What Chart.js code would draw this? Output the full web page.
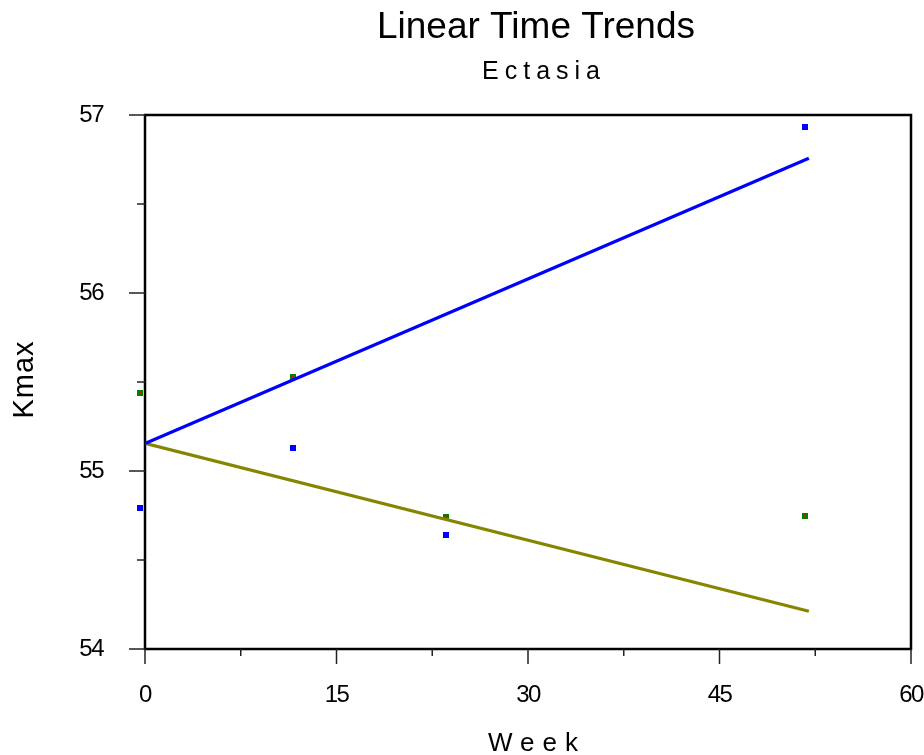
<!DOCTYPE html>
<html>
<head>
<meta charset="utf-8">
<script src="https://cdn.jsdelivr.net/npm/chart.js@4.4.1/dist/chart.umd.min.js"></script>
<style>
  body { margin: 0; background: #fff; }
  canvas { display: block; }
</style>
</head>
<body>
<canvas id="c" width="924" height="755"></canvas>
<script>
// values
const weeksBlue = [-0.4, 11.6, 23.6, 51.7];
const kmaxBlue = [54.79, 55.13, 54.64, 56.93];
const weeksGreen = [-0.4, 11.6, 23.6, 51.7];
const kmaxGreen = [55.44, 55.53, 54.74, 54.75];
const trendWeeks = [0, 52];
const trendBlue = [55.155, 56.757];
const trendOlive = [55.155, 54.212];
const xTicks = [0, 15, 30, 45, 60];
const yTicks = [54, 55, 56, 57];

const FONT = '"Liberation Sans", Arial, sans-serif';

function toPoints(xs, ys){ return xs.map((x, i) => ({ x: x, y: ys[i] })); }

// little square markers
function marker(fill, dot){
  const c = document.createElement('canvas');
  c.width = 6; c.height = 6;
  const g = c.getContext('2d');
  g.fillStyle = fill; g.fillRect(0, 0, 6, 6);
  if (dot){ g.fillStyle = dot; g.fillRect(2, 2, 2, 2); }
  return c;
}
const blueMark = marker('#0000ff');
const greenMark = marker('#008000', '#ff0000');

function midpoints(arr){
  const out = [];
  for (let i = 1; i < arr.length; i++) out.push((arr[i-1] + arr[i]) / 2);
  return out;
}

function drawSpaced(ctx, text, cx, base, font, ls){
  ctx.font = font;
  ctx.letterSpacing = ls + 'px';
  const w = ctx.measureText(text).width - ls;
  ctx.textAlign = 'left';
  ctx.textBaseline = 'alphabetic';
  ctx.fillText(text, cx - w / 2, base);
}

const frameAndText = {
  id: 'frameAndText',
  beforeDraw(chart){ chart.ctx.letterSpacing = '-1.5px'; },
  beforeDatasetsDraw(chart){
    const { ctx, chartArea: a, scales: { x, y } } = chart;
    ctx.save();
    ctx.strokeStyle = '#000';
    ctx.lineWidth = 2.5;
    ctx.strokeRect(a.left, a.top, a.right - a.left, a.bottom - a.top);

    ctx.strokeStyle = '#222';
    ctx.lineWidth = 1.5;
    ctx.beginPath();
    yTicks.forEach(v => { const p = y.getPixelForValue(v); ctx.moveTo(a.left - 16, p); ctx.lineTo(a.left, p); });
    midpoints(yTicks).forEach(v => { const p = y.getPixelForValue(v); ctx.moveTo(a.left - 8, p); ctx.lineTo(a.left, p); });
    xTicks.forEach(v => { const p = x.getPixelForValue(v); ctx.moveTo(p, a.bottom); ctx.lineTo(p, a.bottom + 15); });
    midpoints(xTicks).forEach(v => { const p = x.getPixelForValue(v); ctx.moveTo(p, a.bottom); ctx.lineTo(p, a.bottom + 7); });
    ctx.stroke();
    ctx.restore();
  },
  afterDraw(chart){
    const { ctx } = chart;
    ctx.save();
    ctx.fillStyle = '#000';
    drawSpaced(ctx, 'Linear Time Trends', 536, 38, '37px ' + FONT, 0);
    drawSpaced(ctx, 'Ectasia', 541, 79, '25px ' + FONT, 6);
    drawSpaced(ctx, 'Week', 533, 751, '26px ' + FONT, 8);
    ctx.translate(33, 380);
    ctx.rotate(-Math.PI / 2);
    drawSpaced(ctx, 'Kmax', 0, 0, '29px ' + FONT, 1);
    ctx.restore();
  }
};

new Chart(document.getElementById('c'), {
  type: 'scatter',
  data: {
    datasets: [
      { data: toPoints(trendWeeks, trendBlue), showLine: true, borderColor: '#0000ff', borderWidth: 3.2, pointRadius: 0 },
      { data: toPoints(trendWeeks, trendOlive), showLine: true, borderColor: '#858500', borderWidth: 3.2, pointRadius: 0 },
      { data: toPoints(weeksBlue, kmaxBlue), pointStyle: blueMark, pointRadius: 8, clip: false },
      { data: toPoints(weeksGreen, kmaxGreen), pointStyle: greenMark, pointRadius: 8, clip: false }
    ]
  },
  options: {
    responsive: false,
    animation: false,
    events: [],
    layout: { padding: { top: 115, right: 13, left: 0, bottom: 0 } },
    plugins: { legend: { display: false }, tooltip: { enabled: false } },
    scales: {
      x: {
        type: 'linear', min: 0, max: 60,
        afterFit(s){ s.height = 106; s.paddingLeft = 0; s.paddingRight = 0; },
        afterBuildTicks(s){ s.ticks = xTicks.map(v => ({ value: v })); },
        grid: { display: false, drawTicks: false },
        border: { display: false },
        ticks: { color: '#000', padding: 32, font: { family: FONT, size: 24 } }
      },
      y: {
        type: 'linear', min: 54, max: 57,
        afterFit(s){ s.width = 145; s.paddingTop = 0; s.paddingBottom = 0; },
        afterBuildTicks(s){ s.ticks = yTicks.map(v => ({ value: v })); },
        grid: { display: false, drawTicks: false },
        border: { display: false },
        ticks: { color: '#000', padding: 42, font: { family: FONT, size: 24 } }
      }
    }
  },
  plugins: [frameAndText]
});
</script>
</body>
</html>
